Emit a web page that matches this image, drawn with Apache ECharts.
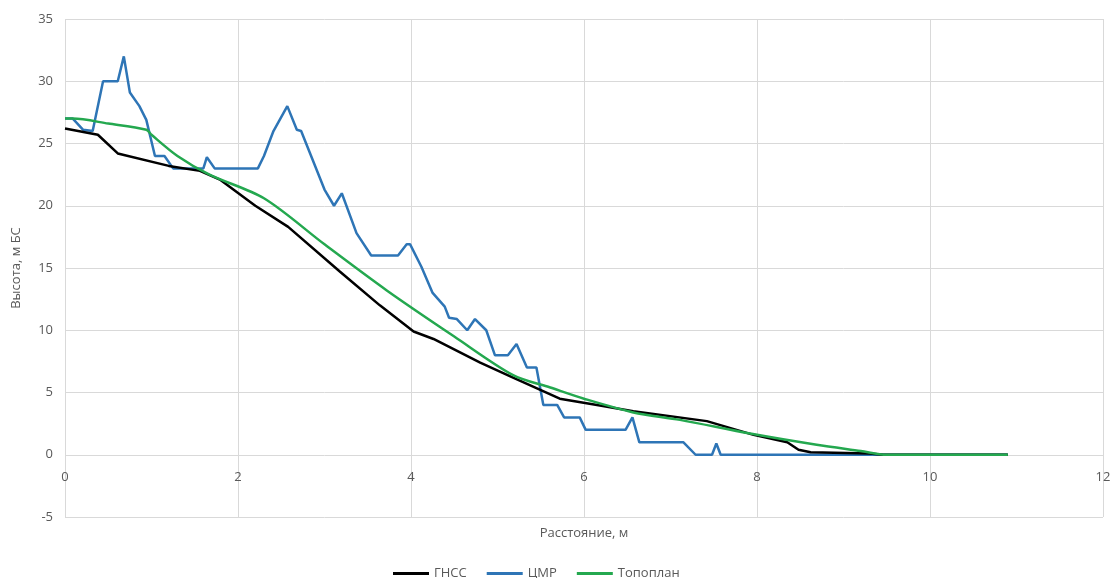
<!DOCTYPE html>
<html>
<head>
<meta charset="utf-8">
<script src="https://cdn.jsdelivr.net/npm/echarts@6/dist/echarts.min.js"></script>
<style>
  html, body { margin: 0; padding: 0; background: #fff; }
  #chart { width: 1113px; height: 578px; }
</style>
</head>
<body>
<div id="chart"></div>
<script>
// ГНСС
var gnss = [
  [0, 26.2], [0.38, 25.7], [0.61, 24.2], [1.2, 23.2], [1.56, 22.8], [1.79, 22.1],
  [2.2, 20.0], [2.58, 18.3], [3.18, 14.7], [3.64, 12.0], [4.03, 9.9], [4.26, 9.3],
  [4.8, 7.4], [5.18, 6.2], [5.72, 4.5], [6.15, 4.0], [6.57, 3.5], [7.42, 2.7],
  [7.96, 1.6], [8.35, 1.0], [8.48, 0.4], [8.62, 0.2], [9.3, 0.1], [9.46, 0], [10.9, 0]
]
// ЦМР
var dem = [
  [0, 27.0], [0.09, 27.0], [0.21, 26.1], [0.32, 26.0], [0.44, 30.0], [0.61, 30.0],
  [0.68, 32.0], [0.75, 29.1], [0.86, 28.0], [0.94, 26.9], [1.04, 24.0], [1.15, 24.0],
  [1.25, 23.0], [1.6, 23.0], [1.64, 23.9], [1.73, 23.0], [2.23, 23.0], [2.3, 24.0],
  [2.41, 26.0], [2.57, 28.0], [2.68, 26.1], [2.73, 26.0], [3.0, 21.3], [3.11, 20.0],
  [3.2, 21.0], [3.37, 17.8], [3.54, 16.0], [3.85, 16.0], [3.95, 16.9], [3.99, 16.9],
  [4.12, 15.1], [4.25, 13.0], [4.39, 11.9], [4.44, 11.0], [4.53, 10.9], [4.65, 10.0],
  [4.74, 10.9], [4.87, 10.0], [4.97, 8.0], [5.12, 8.0], [5.22, 8.9], [5.34, 7.0],
  [5.45, 7.0], [5.53, 4.0], [5.69, 4.0], [5.77, 3.0], [5.95, 3.0], [6.02, 2.0],
  [6.48, 2.0], [6.56, 3.0], [6.64, 1.0], [7.15, 1.0], [7.29, 0], [7.48, 0],
  [7.53, 0.9], [7.58, 0], [10.9, 0]
]
// Топоплан
var topo = [
  [0, 27.0], [0.09, 27.0], [0.5, 26.6], [0.94, 26.1], [1.0, 25.7], [1.3, 24.0],
  [1.67, 22.5], [2.3, 20.6], [3.0, 16.9], [3.72, 13.2], [4.5, 9.5], [5.18, 6.4],
  [5.61, 5.4], [6.0, 4.5], [6.57, 3.4], [7.11, 2.8], [7.92, 1.7], [8.69, 0.8],
  [9.2, 0.3], [9.5, 0], [10.9, 0]
]
var seriesNames = ['ГНСС', 'ЦМР', 'Топоплан']
var seriesColors = ['#000000', '#2e75b6', '#24a84f']

var chart = echarts.init(document.getElementById('chart'))
var font = '"Open Sans", "DejaVu Sans", sans-serif'
chart.setOption({
  animation: false,
  textStyle: { fontFamily: font },
  grid: { left: 65, right: 10, top: 19, bottom: 61, containLabel: false, outerBoundsMode: 'none' },
  legend: {
    top: 562,
    left: 388,
    icon: 'rect',
    itemWidth: 36,
    itemHeight: 3,
    itemGap: 20,
    textStyle: { color: '#595959', fontSize: 13, fontFamily: font },
    data: seriesNames
  },
  xAxis: {
    type: 'value',
    min: 0,
    max: 12,
    interval: 2,
    name: 'Расстояние, м',
    nameLocation: 'middle',
    nameGap: 10,
    nameTextStyle: { color: '#595959', fontSize: 13 },
    axisLine: { show: false, onZero: false },
    axisTick: { show: false },
    // labels sit just under the zero line, like in the source
    axisLabel: { color: '#595959', fontSize: 13, margin: -46 },
    splitLine: { show: true, lineStyle: { color: '#d9d9d9' } }
  },
  yAxis: {
    type: 'value',
    min: -5,
    max: 35,
    interval: 5,
    name: 'Высота, м БС',
    nameLocation: 'middle',
    nameGap: 42,
    nameTextStyle: { color: '#595959', fontSize: 13 },
    axisLine: { show: false },
    axisTick: { show: false },
    axisLabel: { color: '#595959', fontSize: 13, margin: 12 },
    splitLine: { show: true, lineStyle: { color: '#d9d9d9' } }
  },
  series: [gnss, dem, topo].map(function (d, i) {
    return {
      name: seriesNames[i],
      type: 'line',
      data: d,
      showSymbol: false,
      smooth: i === 2 ? 0.3 : false,
      lineStyle: { color: seriesColors[i], width: 2.5 },
      itemStyle: { color: seriesColors[i] },
      z: i === 2 ? 4 : (i === 0 ? 3 : 2)
    }
  })
})
</script>
</body>
</html>
